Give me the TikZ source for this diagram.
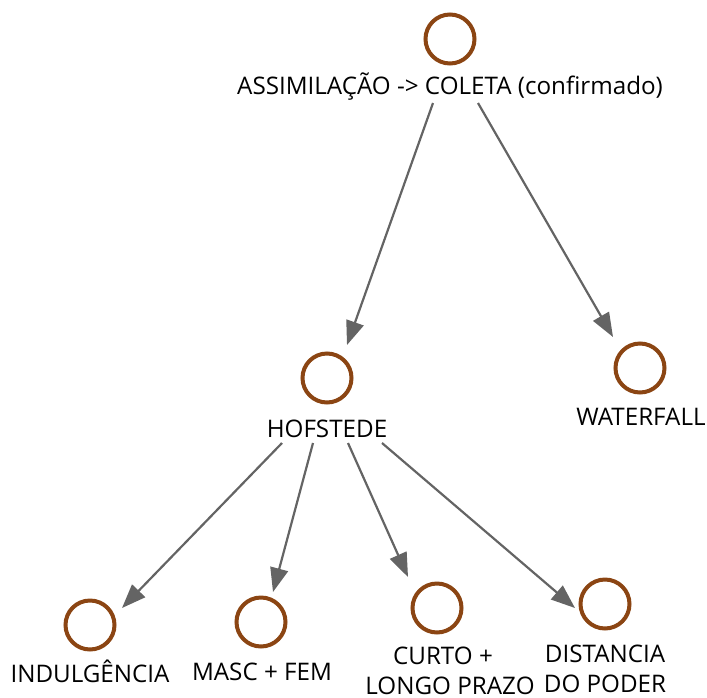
\documentclass[tikz,border=0pt]{standalone}
\usepackage{fontspec}
\setmainfont{Open Sans}
\usetikzlibrary{arrows.meta}
\definecolor{ringbrown}{RGB}{139,69,19}
\definecolor{linkgray}{RGB}{100,100,100}
\tikzset{
  topic/.style={circle, draw=ringbrown, line width=4pt, minimum size=49pt, inner sep=0pt},
  caption/.style={anchor=base, inner sep=0pt, align=center, text=black,
    font=\fontsize{24.2}{30}\selectfont},
  link/.style={draw=linkgray, line width=2.2pt,
    -{Triangle[length=24pt,width=18pt]}}
}
\begin{document}
\begin{tikzpicture}[x=1pt,y=-1pt]
  \useasboundingbox (0,0) rectangle (707,697);

  % topics (rings) and their captions
  \node[topic] (top) at (450,39) {};
  \node[caption] (toplbl) at (450,94) {ASSIMILAÇÃO -> COLETA (confirmado)};

  \node[topic] (hof) at (327,378) {};
  \node[caption] (hoflbl) at (327,437) {HOFSTEDE};

  \node[topic] (wat) at (640,368) {};
  \node[caption] (watlbl) at (641,425) {WATERFALL};

  \node[topic] (ind) at (90,625) {};
  \node[caption] (indlbl) at (90,682) {INDULGÊNCIA};

  \node[topic] (masc) at (261,622) {};
  \node[caption] (masclbl) at (262,680) {MASC + FEM};

  % two-line captions sit on the baseline of their last line
  \node[topic] (curto) at (437,608) {};
  \node[caption] (curtolbl) at (450,694) {CURTO +\hspace*{14pt}\\LONGO PRAZO};

  \node[topic] (dist) at (605,604) {};
  \node[caption] (distlbl) at (605,692) {DISTANCIA\\DO PODER};

  % links
  \draw[link] ([shift={(-17,9)}]toplbl.base) -- ([shift={(20,-33)}]hof.center);
  \draw[link] ([shift={(28,9)}]toplbl.base) -- ([shift={(-27,-31)}]wat.center);

  \draw[link] ([shift={(-45,6)}]hoflbl.base) -- ([shift={(32,-17)}]ind.center);
  \draw[link] ([shift={(-14,6)}]hoflbl.base) -- ([shift={(12,-30)}]masc.center);
  \draw[link] ([shift={(21,6)}]hoflbl.base) -- ([shift={(-29,-31)}]curto.center);
  \draw[link] ([shift={(55,6)}]hoflbl.base) -- ([shift={(-30,4)}]dist.center);
\end{tikzpicture}
\end{document}
